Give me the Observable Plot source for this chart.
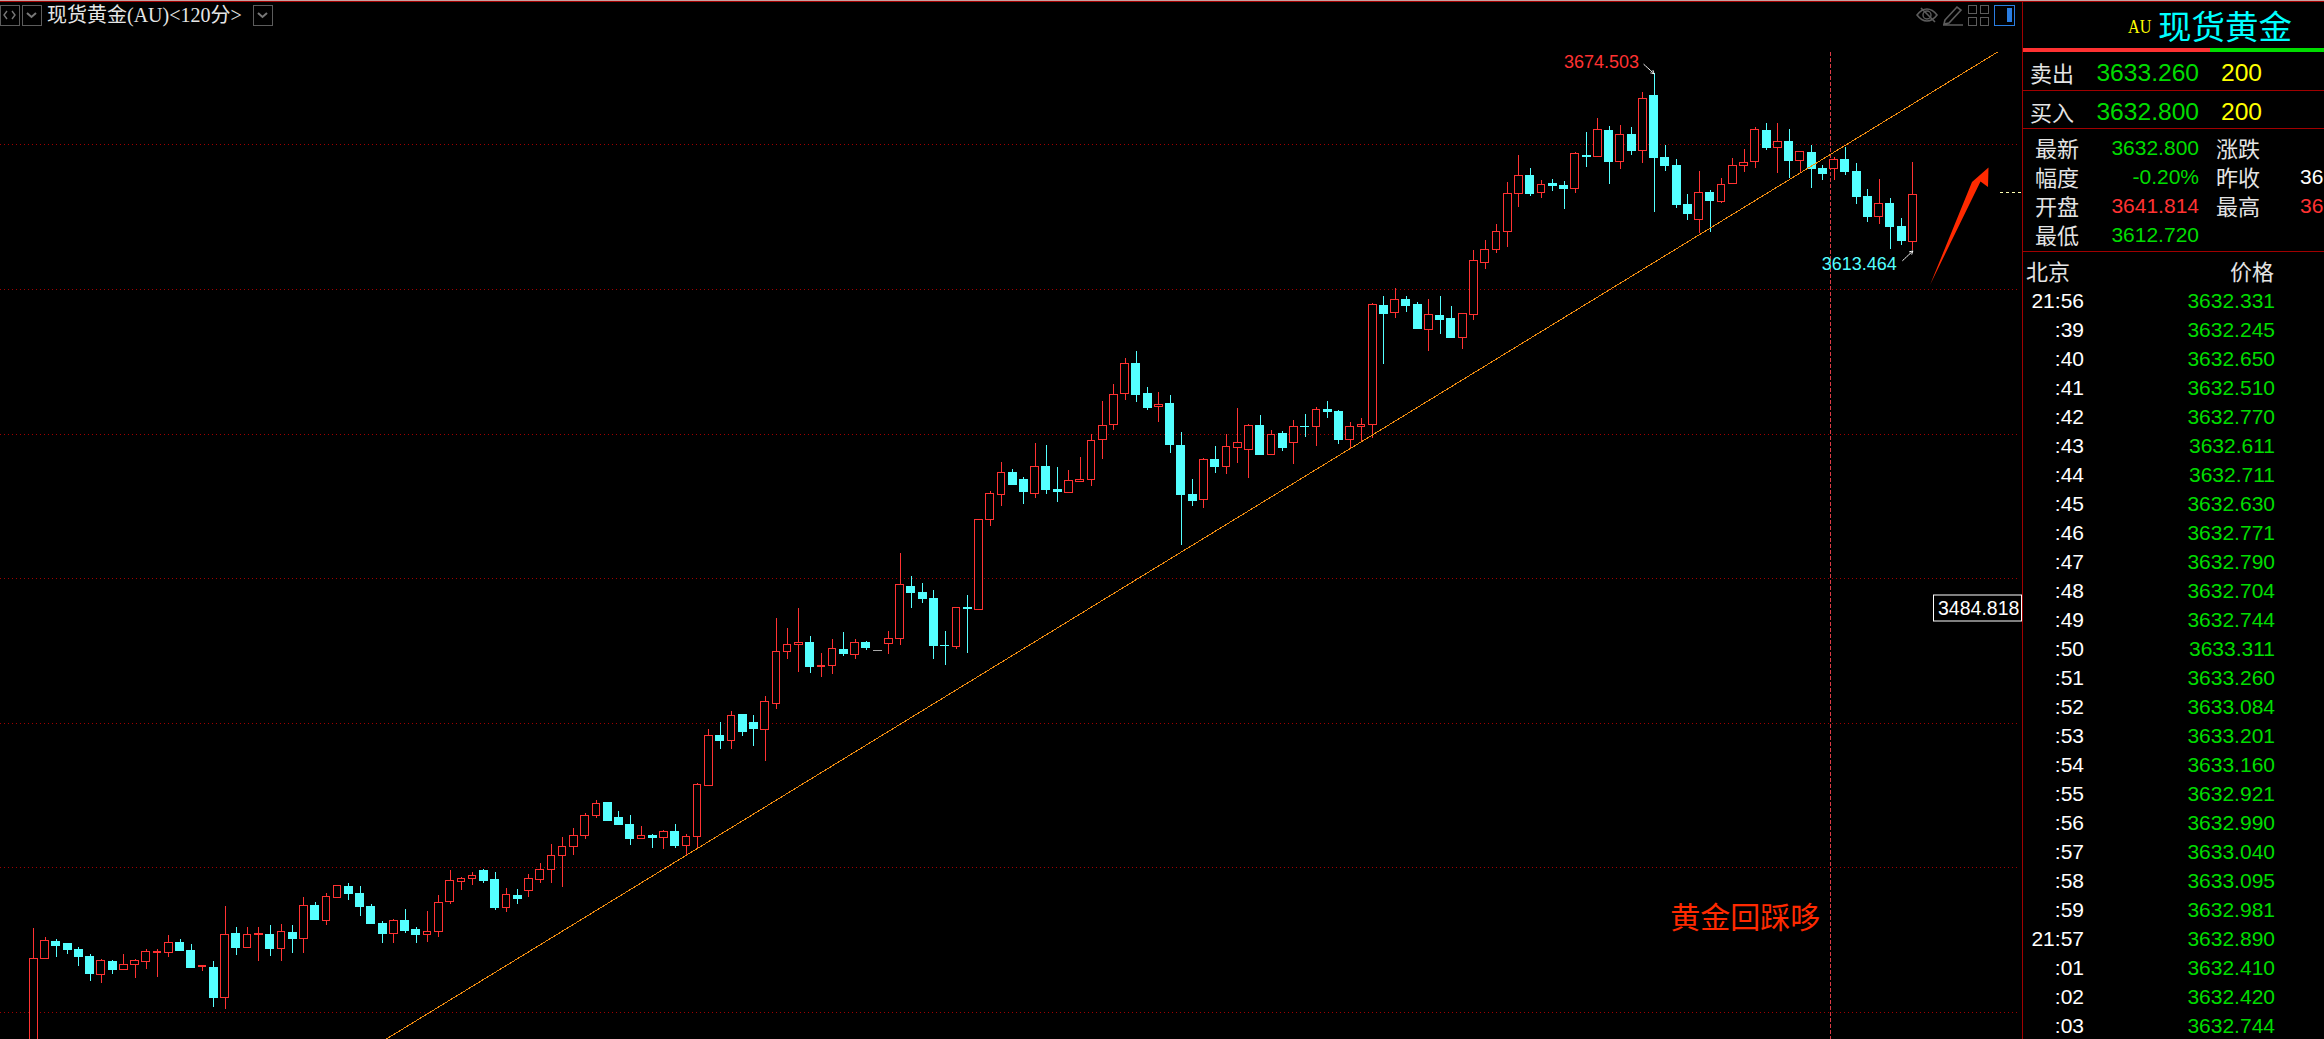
<!DOCTYPE html>
<html><head><meta charset="utf-8">
<script src="https://cdn.jsdelivr.net/npm/d3@7"></script>
<script src="https://cdn.jsdelivr.net/npm/@observablehq/plot@0.6"></script>
<style>
html,body{margin:0;padding:0;background:#000;width:2324px;height:1039px;overflow:hidden}
#wrap{position:relative;width:2324px;height:1039px;overflow:hidden;background:#000}
#chart{position:absolute;left:0;top:0}
.t{position:absolute;white-space:nowrap;line-height:1;transform:translateY(-50%)}
.b{position:absolute}
</style></head><body><div id="wrap"><div id="chart"></div></div>
<script>
const opens=[3335,3368.4,3374.6,3374.0,3371.9,3369.5,3363.1,3367.8,3364.8,3366.5,
3367.6,3370.7,3370.7,3374.4,3371.6,3365.8,3365.7,3355.1,3377.5,3372.4,
3376.9,3377.1,3372.1,3377.8,3375.5,3387.1,3381.7,3389.6,3393.7,3391.3,
3386.8,3380.9,3377.2,3381.9,3378.8,3376.9,3377.9,3388.3,3395.3,3396.2,
3399.2,3396.1,3386.2,3390.6,3392.2,3395.9,3399.3,3404.0,3407.1,3411.1,
3417.9,3422.6,3417.4,3415.0,3409.9,3411.2,3410.3,3412.6,3407.5,3410.6,
3428.2,3445.7,3443.8,3453.0,3450.2,3447.6,3456.6,3474.5,3477.0,3477.9,
3469.4,3469.7,3475.5,3473.8,3477.9,3475.3,3477.3,3479.0,3497.2,3495.2,
3493.1,3476.8,3476.3,3490.0,3489.1,3520.2,3528.8,3536.7,3534.2,3529.2,
3538.7,3530.8,3529.5,3533.6,3534.0,3547.8,3553.0,3563.7,3574.3,3563.9,
3559.4,3560.5,3546.0,3529.1,3527.1,3541.1,3538.5,3545.1,3544.4,3552.9,
3542.6,3550.1,3546.8,3552.5,3552.3,3558.4,3557.7,3547.8,3552.3,3553.3,
3594.6,3592.0,3596.7,3594.9,3586.1,3591.1,3589.8,3583.3,3591.3,3609.2,
3613.7,3619.7,3633.1,3639.4,3633.5,3636.7,3636.0,3634.7,3646.3,3645.7,
3654.9,3644.0,3653.6,3647.8,3667.0,3645.6,3642.9,3629.4,3624.0,3633.6,
3630.4,3636.4,3642.8,3644.0,3654.9,3648.8,3651.2,3644.4,3647.4,3641.8,
3641.6,3644.9,3640.8,3632.2,3625.0,3629.8,3621.8,3616.4];
const highs=[3379.1,3376.0,3375.4,3374.0,3372.6,3370.2,3368.4,3368.1,3370.1,3368.4,
3371.8,3371.8,3376.7,3375.4,3373.7,3366.3,3367.5,3386.8,3379.4,3379.4,
3379.4,3380.2,3380.6,3380.2,3389.9,3388.2,3391.3,3394.0,3394.7,3393.7,
3387.5,3381.6,3382.3,3385.7,3379.5,3385.0,3390.6,3399.2,3396.8,3398.5,
3399.5,3398.5,3393.0,3392.6,3397.9,3401.7,3408.0,3410.4,3413.5,3419.0,
3423.3,3422.6,3419.5,3418.1,3414.3,3411.5,3412.9,3415.0,3411.5,3429.1,
3447.8,3450.2,3454.0,3453.0,3452.6,3459.2,3486.2,3482.7,3489.6,3480.0,
3474.1,3478.9,3481.3,3478.9,3478.2,3475.3,3481.7,3508.6,3500.7,3498.3,
3495.9,3481.7,3489.9,3494.1,3520.3,3530.0,3540.1,3537.7,3534.9,3546.7,
3546.0,3538.4,3537.3,3541.8,3549.8,3561.2,3567.0,3576.0,3578.4,3566.0,
3564.3,3563.2,3550.5,3534.2,3541.5,3545.6,3549.8,3558.7,3553.2,3556.3,
3551.2,3550.8,3554.6,3556.7,3559.1,3561.2,3558.0,3553.9,3555.3,3595.3,
3597.7,3600.5,3597.4,3595.6,3596.7,3597.4,3594.2,3591.8,3613.6,3617.0,
3622.5,3637.0,3646.3,3641.9,3637.7,3638.1,3637.4,3647.4,3654.3,3659.1,
3656.3,3656.7,3656.0,3668.1,3674.503,3649.8,3644.9,3632.9,3640.8,3634.2,
3638.4,3645.3,3648.4,3656.0,3657.4,3657.4,3655.3,3647.6,3649.8,3642.9,
3645.6,3649.1,3643.6,3634.6,3638.0,3631.5,3624.6,3643.9];
const lows=[3330,3368.4,3369.0,3370.2,3365.8,3360.6,3359.9,3363.0,3364.8,3361.9,
3365.0,3362.3,3369.2,3371.2,3365.4,3364.3,3351.6,3351.2,3369.9,3372.4,
3367.5,3369.5,3367.5,3370.6,3370.6,3381.9,3380.2,3389.6,3388.8,3383.3,
3380.6,3374.0,3374.0,3377.5,3374.0,3374.4,3376.1,3387.5,3392.3,3394.0,
3394.7,3385.4,3384.7,3387.5,3389.9,3394.5,3394.5,3393.3,3404.3,3409.8,
3417.1,3416.0,3414.6,3407.7,3409.9,3406.7,3406.3,3406.7,3404.3,3406.6,
3428.2,3440.9,3440.9,3445.4,3441.9,3436.8,3454.7,3472.0,3467.5,3467.2,
3465.8,3466.8,3473.0,3472.0,3475.1,3475.3,3473.7,3476.8,3489.6,3491.4,
3472.0,3469.9,3475.5,3474.1,3489.1,3518.0,3524.9,3532.2,3525.6,3527.7,
3529.1,3526.3,3529.5,3533.6,3531.8,3541.1,3551.2,3561.5,3560.8,3558.0,
3553.9,3543.2,3511.5,3524.9,3524.2,3536.3,3536.0,3539.8,3534.6,3542.5,
3542.6,3543.9,3539.4,3548.7,3545.6,3555.3,3546.3,3544.9,3547.5,3548.4,
3573.9,3590.1,3592.2,3586.0,3578.4,3584.6,3583.2,3579.4,3589.4,3607.0,
3612.5,3614.6,3628.4,3632.2,3631.5,3633.9,3627.7,3633.2,3642.2,3645.7,
3636.3,3641.5,3646.3,3643.6,3626.7,3640.8,3628.0,3623.9,3619.3,3619.8,
3629.8,3636.4,3640.5,3641.8,3648.0,3640.1,3638.3,3640.0,3634.9,3637.7,
3637.7,3639.4,3629.4,3623.2,3622.5,3613.9,3615.3,3613.464];
const closes=[3368.4,3374.6,3373.0,3371.4,3369.2,3363.0,3367.7,3364.7,3366.3,3367.7,
3370.8,3371.1,3374.2,3371.2,3365.4,3366.1,3355.0,3377.0,3372.3,3377.0,
3377.1,3371.9,3377.7,3375.4,3386.7,3381.9,3389.8,3393.6,3390.9,3386.4,
3380.6,3377.1,3381.8,3378.1,3376.8,3377.9,3388.0,3395.6,3396.3,3397.2,
3395.4,3386.1,3390.5,3389.2,3396.2,3399.3,3404.1,3407.3,3411.1,3418.0,
3422.1,3416.0,3414.6,3409.8,3411.1,3410.1,3412.4,3407.4,3410.7,3428.7,
3445.6,3443.7,3452.5,3446.8,3447.8,3457.4,3474.7,3477.1,3477.8,3469.2,
3469.9,3475.7,3473.7,3477.8,3475.8,3475.3,3479.1,3497.8,3494.8,3492.7,
3476.5,3476.5,3489.9,3489.3,3520.3,3529.3,3536.5,3532.2,3529.8,3538.6,
3530.4,3529.8,3533.8,3534.2,3547.6,3552.8,3563.5,3574.2,3563.2,3558.7,
3560.1,3546.0,3528.7,3526.7,3541.0,3538.4,3545.5,3546.9,3552.8,3542.5,
3549.7,3544.9,3552.4,3552.2,3558.3,3557.4,3547.7,3552.4,3553.1,3594.5,
3591.5,3596.5,3594.2,3586.0,3591.0,3589.4,3583.2,3591.4,3609.7,3613.8,
3620.0,3633.1,3639.3,3632.9,3636.2,3635.7,3634.6,3646.7,3645.6,3655.2,
3643.9,3653.5,3647.7,3665.9,3645.3,3642.5,3629.1,3626.0,3633.4,3630.4,
3636.2,3642.8,3643.8,3655.2,3648.7,3651.0,3644.2,3647.6,3641.5,3639.8,
3644.8,3640.5,3631.8,3624.9,3629.6,3621.5,3616.7,3632.7];
const gridPrices=[3650,3600,3550,3500,3450,3400,3350];
const trendBars=[31.26,174.5];
const trendPrices=[3340.7,3682.0];
const crosshairBar=159.65;
const lastPrice=3633.4;
const highLabel="3674.503", lowLabel="3613.464", noteLabel="黄金回踩哆", boxLabel="3484.818";
const headerText="现货黄金(AU)<120分>";
const tickTimes=["21:56",":39",":40",":41",":42",":43",":44",":45",":46",":47",":48",":49",":50",":51",":52",":53",":54",":55",":56",":57",":58",":59","21:57",":01",":02",":03"];
const tickPrices=["3632.331","3632.245","3632.650","3632.510","3632.770","3632.611","3632.711","3632.630","3632.771","3632.790","3632.704","3632.744","3633.311","3633.260","3633.084","3633.201","3633.160","3632.921","3632.990","3633.040","3633.095","3632.981","3632.890","3632.410","3632.420","3632.744"];

const RED="#ff3232",CYAN="#54ffff",GREEN="#00dc00",DARK="#a00000",SANS="'Liberation Sans',Arial,sans-serif",CJK="'Noto Sans CJK SC',sans-serif";
const bars=opens.map((o,i)=>({i,o,h:highs[i],l:lows[i],c:closes[i]}));
const up=bars.filter(d=>d.c>d.o),down=bars.filter(d=>d.c<d.o),flat=bars.filter(d=>d.c===d.o);

function decor(index,scales,values,dims,context){
  const g=d3.create("svg:g").attr("fill","none");
  const box=(x,y,w,h,c)=>g.append("rect").attr("x",x+.5).attr("y",y+.5).attr("width",w).attr("height",h).attr("stroke",c);
  const path=(d,c,w=1.4)=>g.append("path").attr("d",d).attr("stroke",c).attr("stroke-width",w);
  const GR="#5c5c5c";
  box(0,5,19,20,GR);path("M7 11l-3 4 3 4M12 11l3 4-3 4","#777");
  box(22,5,19,20,GR);path("M27 13l4.5 4 4.5-4","#777",2);
  box(253,5,19,20,GR);path("M258 13l4.5 4 4.5-4","#777",2);
  path("M1917 15c6-8 14-8 20 0c-6 8-14 8-20 0zM1921 8l14 14",GR,1.6);
  g.append("circle").attr("cx",1927).attr("cy",15).attr("r",4).attr("stroke",GR).attr("stroke-width",1.4);
  path("M1945 20l12-13 4 3-12 13-5 1zM1943 25h20",GR,1.6);
  box(1968,5,8,8,GR);box(1980,5,8,8,GR);box(1968,17,8,8,GR);box(1980,17,8,8,GR);
  box(1994,5,20,20,"#2a7de1");
  g.append("rect").attr("x",2007).attr("y",8).attr("width",5).attr("height",14).attr("fill","#2a7de1");
  g.append("polygon").attr("points","1930,285 1972,182 1988.5,167.5 1988,187 1980.5,181.5").attr("fill","#ff2a00");
  return g.node();
}
const chart=Plot.plot({
  width:2022,height:1039,marginTop:0,marginRight:0,marginBottom:0,marginLeft:0,
  style:{background:"#000",display:"block",overflow:"hidden"},
  x:{type:"linear",domain:[0,167],range:[33.3,1912.3],axis:null},
  y:{type:"linear",domain:[3699.9,3340.7],range:[0,1039],axis:null},
  marks:[
    Plot.ruleY(gridPrices,{x1:-2.96,x2:176.6,stroke:"#a00000",strokeDasharray:"1,3",strokeWidth:1,shapeRendering:"crispEdges"}),
    Plot.ruleX([crosshairBar],{y1:3682,y2:3340.7,stroke:"#dc3c46",strokeDasharray:"4,2",strokeWidth:1,shapeRendering:"crispEdges"}),
    Plot.ruleY([lastPrice],{x1:174.8,x2:176.7,stroke:"#ffffb0",strokeDasharray:"3,3",shapeRendering:"crispEdges"}),
    Plot.ruleX(up,{x:"i",y1:"l",y2:"h",stroke:RED,strokeWidth:1,shapeRendering:"crispEdges"}),
    Plot.ruleX(down,{x:"i",y1:"l",y2:"h",stroke:CYAN,strokeWidth:1,shapeRendering:"crispEdges"}),
    Plot.rect(up,{x1:d=>d.i-.34,x2:d=>d.i+.34,y1:"o",y2:"c",fill:"#000",stroke:RED,strokeWidth:1,shapeRendering:"crispEdges"}),
    Plot.rect(down,{x1:d=>d.i-.4,x2:d=>d.i+.4,y1:"o",y2:"c",fill:CYAN,shapeRendering:"crispEdges"}),
    Plot.ruleY(flat,{y:"c",x1:d=>d.i-.4,x2:d=>d.i+.4,stroke:"#aaa",shapeRendering:"crispEdges"}),
    Plot.line(trendBars.map((b,k)=>({b,p:trendPrices[k]})),{x:"b",y:"p",stroke:"#f08c10",strokeWidth:1,shapeRendering:"crispEdges"}),
    Plot.text([highLabel],{x:()=>144,y:()=>3674.503,text:d=>d,textAnchor:"end",dx:-15,dy:-12,fill:RED,fontSize:18,fontFamily:SANS}),
    Plot.text([lowLabel],{x:()=>167,y:()=>3613.464,text:d=>d,textAnchor:"end",dx:-16,dy:14,fill:CYAN,fontSize:18,fontFamily:SANS}),
    Plot.arrow([{x1:143.1,y1:3677.8,x2:144,y2:3674.6}],{x1:"x1",y1:"y1",x2:"x2",y2:"y2",stroke:"#fff",strokeWidth:1,headLength:5,strokeDasharray:"2,1"}),
    Plot.arrow([{x1:166.1,y1:3610,x2:167,y2:3613.3}],{x1:"x1",y1:"y1",x2:"x2",y2:"y2",stroke:"#fff",strokeWidth:1,headLength:5,strokeDasharray:"2,1"}),
    Plot.text([noteLabel],{x:()=>152.1,y:()=>3382.6,text:d=>d,fill:"#ff2a00",fontSize:30,fontFamily:CJK}),
    decor
  ]
});
document.getElementById("chart").appendChild(chart);
const wrap=document.getElementById("wrap");
function T(s,x,cy,size,color,o={}){
  const e=document.createElement("div");e.className="t";e.textContent=s;
  e.style.fontSize=size+"px";e.style.color=color;e.style.top=cy+"px";e.style.fontFamily=o.font||SANS;
  if(o.right)e.style.right=(2324-x)+"px";else e.style.left=x+"px";
  if(o.spacing)e.style.letterSpacing=o.spacing+"px";
  wrap.appendChild(e);return e;
}
function B(x,y,w,h,c){const e=document.createElement("div");e.className="b";e.style.cssText+=`left:${x}px;top:${y}px;width:${w}px;height:${h}px;background:${c}`;wrap.appendChild(e);}
B(0,0,2324,1,"#c8a0a0");B(0,1,2324,1,DARK);
B(2022,2,1,1037,DARK);
B(2023,48,187,4,RED);B(2210,48,114,4,GREEN);
B(2023,90,301,1,DARK);B(2023,128,301,1,DARK);B(2023,251,301,1,DARK);
T(headerText,47,15,20,"#e6e6e6",{font:"'Liberation Serif',"+CJK});
const au=T("AU",2128,26,19,"#ffff00",{font:"'Liberation Serif',serif"});
au.style.transform="translateY(-50%) scaleX(.85)";au.style.transformOrigin="left center";
T("现货黄金",2158,25,33.5,"#00ffff",{font:CJK});
const W="#e4e4e4";
T("卖出",2030,71.5,22,W,{font:CJK});T("3633.260",2199,73,24.6,GREEN,{right:1});T("200",2221,73,24.6,"#ffff00");
T("买入",2030,110.5,22,W,{font:CJK});T("3632.800",2199,112,24.6,GREEN,{right:1});T("200",2221,112,24.6,"#ffff00");
T("最新",2035,147,22,W,{font:CJK});T("3632.800",2199,147,21,GREEN,{right:1});T("涨跌",2216,147,22,W,{font:CJK});
T("幅度",2035,176,22,W,{font:CJK});T("-0.20%",2199,176,21,GREEN,{right:1});T("昨收",2216,176,22,W,{font:CJK});T("36",2300,176,21,"#fff");
T("开盘",2035,205,22,W,{font:CJK});T("3641.814",2199,205,21,RED,{right:1});T("最高",2216,205,22,W,{font:CJK});T("36",2300,205,21,RED);
T("最低",2035,234,22,W,{font:CJK});T("3612.720",2199,234,21,GREEN,{right:1});
T("北京",2026,270,22,W,{font:CJK});T("价格",2230,270,22,W,{font:CJK});
tickTimes.forEach((s,k)=>{
  T(s,2084,300+29*k,21,"#fff",{right:1});
  T(tickPrices[k],2275,300+29*k,21,GREEN,{right:1});
});
const lb=T(boxLabel,1933,608,19.5,"#fff");
lb.style.cssText+=";border:1px solid #fff;padding:3px 4px;background:#000;width:79px;height:19px;line-height:19px;text-align:center;left:1933px";
</script></body></html>
